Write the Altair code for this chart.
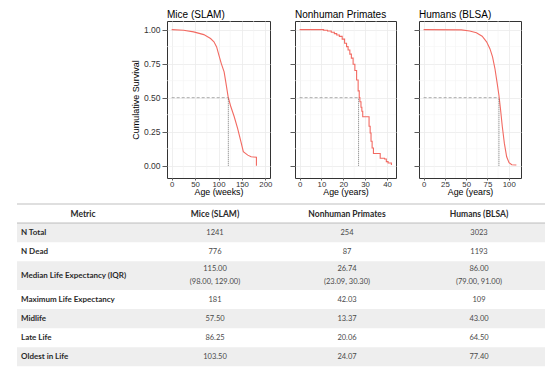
import altair as alt
import pandas as pd

# ---------------- data ----------------
mice_age = [0, 25.3, 46.9, 68.6, 83, 90.3, 96, 101, 106, 112, 115.5, 120.6, 126.4, 133.6, 140.8, 148, 153, 162.5, 169.7, 181, 181]
mice_surv = [1.0, 0.995, 0.983, 0.963, 0.934, 0.91, 0.873, 0.81, 0.75, 0.69, 0.616, 0.506, 0.433, 0.36, 0.274, 0.176, 0.103, 0.078, 0.066, 0.062, 0.0]

nhp_age = [0, 9.5, 11, 12.8, 14.5, 15.9, 17, 18.2, 19.5, 20.6, 21.5, 22.2, 23, 23.7, 24.5, 25.3, 26.1, 26.8, 27.3, 27.6,
           28.1, 28.5, 28.9, 31.2, 31.8, 32.3, 32.7, 33.2, 33.8, 36.1, 36.9, 38.9, 39.7, 40.5, 42.03]
nhp_surv = [1.0, 1.0, 0.995, 0.99, 0.98, 0.97, 0.96, 0.95, 0.93, 0.90, 0.875, 0.85, 0.82, 0.79, 0.745, 0.70, 0.63, 0.55, 0.50, 0.47,
            0.43, 0.40, 0.36, 0.36, 0.29, 0.24, 0.18, 0.13, 0.09, 0.09, 0.055, 0.05, 0.03, 0.02, 0.005]

hum_age = [0, 44.3, 54.2, 62, 68.8, 74, 77.9, 81, 83.8, 86.2, 88.5, 90.5, 92.5, 94.9, 97.6, 100.4, 103.6, 109]
hum_surv = [1.0, 0.998, 0.99, 0.976, 0.951, 0.91, 0.86, 0.80, 0.714, 0.616, 0.518, 0.408, 0.286, 0.164, 0.066, 0.022, 0.007, 0.005]

panel_titles = ["Mice (SLAM)", "Nonhuman Primates", "Humans (BLSA)"]
x_titles = ["Age (weeks)", "Age (years)", "Age (years)"]
medians_drawn = [121, 27.0, 88.5]

mice_ticks = [0, 50, 100, 150, 200]
mice_minor = [25, 75, 125, 175]
nhp_ticks = [0, 10, 20, 30, 40]
nhp_minor = [5, 15, 25, 35]
hum_ticks = [0, 25, 50, 75, 100]
hum_minor = [12.5, 37.5, 62.5, 87.5]
y_ticks = [0, 0.25, 0.5, 0.75, 1.0]
y_minor = [0.125, 0.375, 0.625, 0.875]

header = ["Metric", "Mice (SLAM)", "Nonhuman Primates", "Humans (BLSA)"]
metrics = ["N Total", "N Dead", "Median Life Expectancy (IQR)", "Maximum Life Expectancy",
           "Midlife", "Late Life", "Oldest in Life"]
mice_vals = ["1241", "776", "115.00\n(98.00, 129.00)", "181", "57.50", "86.25", "103.50"]
nhp_vals = ["254", "87", "26.74\n(23.09, 30.30)", "42.03", "13.37", "20.06", "24.07"]
hum_vals = ["3023", "1193", "86.00\n(79.00, 91.00)", "109", "43.00", "64.50", "77.40"]

# ---------------- layout / style ----------------
RED = "#F26A62"
FONT = "Liberation Sans"
TFONT = "Lato"
PANEL_H = 157
Y_DOMAIN = [-0.09, 1.063]
row_units = [1, 1, 1, 1.5, 1, 1, 1, 1]   # header + 7 metric rows
UNIT_PX = 19.1
LINE_GAP_UNITS = 0.33
TABLE_W = 528


def panel(age, surv, median, title, xtitle, domain, xticks, xminor, width, show_y, interp):
    xs = alt.Scale(domain=domain, nice=False, zero=False)
    ys = alt.Scale(domain=Y_DOMAIN, nice=False, zero=False)
    df = pd.DataFrame({"age": age, "surv": surv})

    yaxis = alt.Axis(values=y_ticks, format=".2f", title="Cumulative Survival" if show_y else None,
                     labels=show_y, grid=True, tickSize=5, labelPadding=2, titlePadding=3,
                     labelFontSize=8.5, labelColor="#333333")
    xaxis = alt.Axis(values=xticks, title=xtitle, grid=True, tickSize=2, labelPadding=0, titlePadding=0,
                     labelFontSize=7.8, labelColor="#333333", titleFontSize=8.8)

    mx = alt.Chart(pd.DataFrame({"v": xminor})).mark_rule(color="#f4f4f4", strokeWidth=0.6).encode(
        x=alt.X("v:Q", scale=xs, axis=xaxis))
    my = alt.Chart(pd.DataFrame({"v": y_minor})).mark_rule(color="#f4f4f4", strokeWidth=0.6).encode(
        y=alt.Y("v:Q", scale=ys, axis=yaxis))
    line = alt.Chart(df).mark_line(color=RED, strokeWidth=1.1, interpolate=interp).encode(
        x=alt.X("age:Q", scale=xs, axis=xaxis),
        y=alt.Y("surv:Q", scale=ys, axis=yaxis))
    h = alt.Chart(pd.DataFrame({"x0": [0], "x1": [median], "y": [0.5]})).mark_rule(
        color="#8a8a8a", strokeWidth=0.7, strokeDash=[3, 2]).encode(
        x=alt.X("x0:Q", scale=xs, axis=xaxis), x2="x1:Q", y=alt.Y("y:Q", scale=ys, axis=yaxis))
    v = alt.Chart(pd.DataFrame({"x": [median], "y0": [0], "y1": [0.5]})).mark_rule(
        color="#555555", strokeWidth=0.8, strokeDash=[1, 1]).encode(
        x=alt.X("x:Q", scale=xs, axis=xaxis), y=alt.Y("y0:Q", scale=ys, axis=yaxis), y2="y1:Q")
    return alt.layer(mx, my, line, h, v).properties(
        width=width, height=PANEL_H,
        title=alt.TitleParams(title, anchor="start", frame="group", fontSize=10, font=FONT,
                              fontWeight="normal", color="#000000", offset=1),
        view=alt.ViewBackground(stroke="#333333", strokeWidth=1))


p1 = panel(mice_age, mice_surv, medians_drawn[0], panel_titles[0], x_titles[0], [-10, 210],
           mice_ticks, mice_minor, 103, True, "linear")
p2 = panel(nhp_age, nhp_surv, medians_drawn[1], panel_titles[1], x_titles[1], [-2.1, 44.13],
           nhp_ticks, nhp_minor, 101, False, "step-after")
p3 = panel(hum_age, hum_surv, medians_drawn[2], panel_titles[2], x_titles[2], [-5.45, 114.45],
           hum_ticks, hum_minor, 102, False, "linear")

spacer = alt.Chart(pd.DataFrame({"a": [0]})).mark_point(opacity=0).encode(
    x=alt.value(0), y=alt.value(0)).properties(
    width=96, height=10, view=alt.ViewBackground(stroke="transparent"))

top = alt.hconcat(spacer, p1, p2, p3, spacing=16)

# ---------------- table ----------------
tops = [0]
for u in row_units:
    tops.append(tops[-1] + u)
total_units = tops[-1]

rows = []
for i, name in enumerate(metrics):
    r = i + 1
    rows.append({"name": name, "top": tops[r], "bot": tops[r + 1], "mid": (tops[r] + tops[r + 1]) / 2,
                 "shade": r % 2 == 1, "x0": 0, "x1": 4})
rows_df = pd.DataFrame(rows)

cells = []
for i, vals in enumerate([mice_vals, nhp_vals, hum_vals]):
    for j, val in enumerate(vals):
        r = j + 1
        mid = (tops[r] + tops[r + 1]) / 2
        parts = val.split("\n")
        if len(parts) == 1:
            cells.append({"txt": parts[0], "xc": i + 1.5, "mid": mid})
        else:
            cells.append({"txt": parts[0], "xc": i + 1.5, "mid": mid - LINE_GAP_UNITS})
            cells.append({"txt": parts[1], "xc": i + 1.5, "mid": mid + LINE_GAP_UNITS})
cells_df = pd.DataFrame(cells)

head_df = pd.DataFrame({"txt": header, "xc": [k + 0.5 for k in range(4)],
                        "mid": [(tops[0] + tops[1]) / 2] * 4})
lines_df = pd.DataFrame({"y": [tops[0], tops[1]], "x0": [0, 0], "x1": [4, 4]})

txs = alt.Scale(domain=[0, 4], nice=False, zero=False)
tys = alt.Scale(domain=[0, total_units], nice=False, zero=False, reverse=True)

shade = alt.Chart(rows_df).transform_filter("datum.shade").mark_rect(color="#eeeeee").encode(
    x=alt.X("x0:Q", scale=txs, axis=None), x2="x1:Q",
    y=alt.Y("top:Q", scale=tys, axis=None), y2="bot:Q")
hlines = alt.Chart(lines_df).mark_rule(color="#d4d4d4", strokeWidth=1.6).encode(
    x=alt.X("x0:Q", scale=txs, axis=None), x2="x1:Q", y=alt.Y("y:Q", scale=tys, axis=None))
labels = alt.Chart(rows_df).mark_text(align="left", baseline="middle", font=TFONT, fontSize=8,
                                      fontWeight="bold", color="#2a2a2a").encode(
    x=alt.value(4), y=alt.Y("mid:Q", scale=tys, axis=None), text="name:N")
heads = alt.Chart(head_df).mark_text(align="center", baseline="middle", font=TFONT, fontSize=8.5,
                                     fontWeight="bold", color="#2a2a2a").encode(
    x=alt.X("xc:Q", scale=txs, axis=None), y=alt.Y("mid:Q", scale=tys, axis=None), text="txt:N")
vals = alt.Chart(cells_df).mark_text(align="center", baseline="middle", font=TFONT, fontSize=7.5,
                                     color="#4a4a4a").encode(
    x=alt.X("xc:Q", scale=txs, axis=None), y=alt.Y("mid:Q", scale=tys, axis=None), text="txt:N")

table = alt.layer(shade, hlines, labels, heads, vals).properties(
    width=TABLE_W, height=total_units * UNIT_PX,
    view=alt.ViewBackground(stroke="transparent"))

chart = alt.vconcat(top, table, spacing=4).properties(
    padding={"left": 13, "top": 9, "right": 0, "bottom": 0},
    background="white"
).configure_axis(
    labelFont=FONT, labelFontSize=8, labelColor="#4d4d4d",
    titleFont=FONT, titleFontSize=9, titleFontWeight="normal", titleColor="#000000",
    tickColor="#333333", tickWidth=0.8, domain=False,
    gridColor="#ebebeb", gridWidth=0.8
)

chart.save("out.html", embed_options={"renderer": "svg", "actions": False})
